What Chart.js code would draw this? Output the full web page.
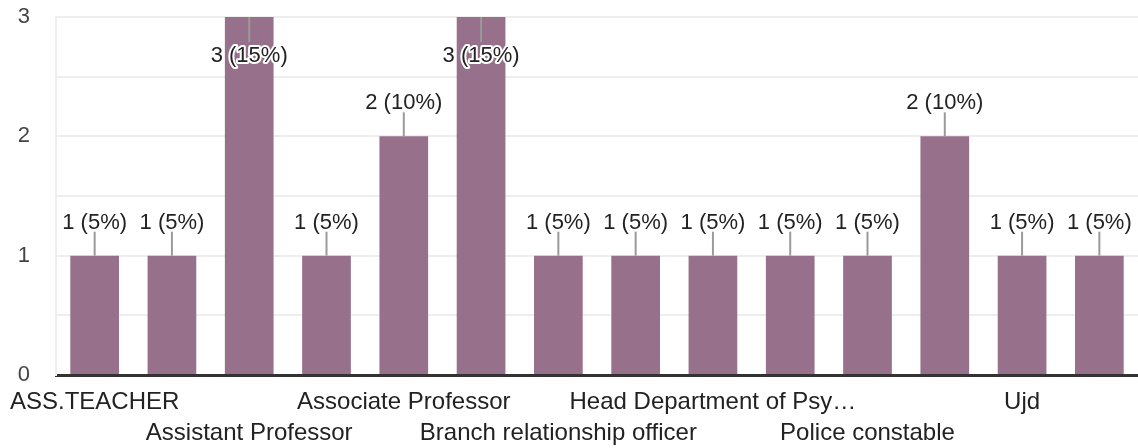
<!DOCTYPE html>
<html>
<head>
<meta charset="utf-8">
<title>Pekerjaan</title>
<script src="https://cdn.jsdelivr.net/npm/chart.js@4.4.1/dist/chart.umd.min.js"></script>
<style>
  body { margin: 0; background: #fff; }
  canvas { display: block; }
</style>
</head>
<body>
<canvas id="barChart" width="1138" height="448"></canvas>
<script>
const categories = [
  "ASS.TEACHER",
  "Assistant",
  "Assistant Professor",
  "Assistant professor",
  "Associate Professor",
  "Bank manager",
  "Branch relationship officer",
  "Doctor",
  "Head Department of Psychology",
  "Lecturer",
  "Police constable",
  "Teacher",
  "Ujd",
  "Vice principal",
];
const jumlah = [1, 1, 3, 1, 2, 3, 1, 1, 1, 1, 1, 2, 1, 1];
const yTicks = [0, 1, 2, 3];

const fontFamily = "'Liberation Sans', Arial, sans-serif";
const warnaBar = "#97708b";
const totalJawaban = jumlah.reduce(function (a, b) { return a + b; }, 0);

// ukur teks supaya label panjang dipotong dengan "…"
const ukur = document.createElement("canvas").getContext("2d");
function potongLabel(teks, maxLebar) {
  ukur.font = "24px " + fontFamily;
  if (ukur.measureText(teks).width <= maxLebar) return teks;
  let s = teks;
  while (s.length > 1 && ukur.measureText(s + "…").width > maxLebar) {
    s = s.slice(0, -1);
  }
  return s.trimEnd() + "…";
}

const labelNilai = {
  id: "labelNilai",
  afterDatasetsDraw(chart) {
    const ctx = chart.ctx;
    const area = chart.chartArea;
    const meta = chart.getDatasetMeta(0);
    ctx.save();
    ctx.font = "22px " + fontFamily;
    ctx.textAlign = "center";
    ctx.textBaseline = "middle";
    meta.data.forEach(function (bar, i) {
      const v = jumlah[i];
      const teks = v + " (" + Math.round((v / totalJawaban) * 100) + "%)";
      let y1, yTeks;
      if (bar.y - 48 < area.top) {
        y1 = bar.y + 25;
        yTeks = bar.y + 39;
      } else {
        y1 = bar.y - 24;
        yTeks = bar.y - 33;
      }
      ctx.strokeStyle = "#9a9a9a";
      ctx.lineWidth = 2;
      ctx.beginPath();
      ctx.moveTo(bar.x, bar.y);
      ctx.lineTo(bar.x, y1);
      ctx.stroke();
      ctx.lineWidth = 4;
      ctx.lineJoin = "round";
      ctx.strokeStyle = "#fff";
      ctx.strokeText(teks, bar.x, yTeks);
      ctx.fillStyle = "#222";
      ctx.fillText(teks, bar.x, yTeks);
    });
    ctx.restore();
  },
};

document.addEventListener("DOMContentLoaded", function () {
  const ctx = document.getElementById("barChart").getContext("2d");
  new Chart(ctx, {
    type: "bar",
    data: {
      labels: categories,
      datasets: [
        {
          data: jumlah,
          backgroundColor: warnaBar,
          barPercentage: 0.63,
          categoryPercentage: 1,
        },
      ],
    },
    options: {
      responsive: false,
      animation: false,
      layout: { padding: { top: 17, right: 0, left: 0, bottom: 0 } },
      plugins: {
        legend: { display: false },
        tooltip: { enabled: false },
      },
      scales: {
        x: {
          grid: { display: false, drawTicks: false },
          border: { display: true, color: "#333", width: 3 },
          afterFit: function (scale) {
            scale.height = 73;
            scale.paddingLeft = 0;
            scale.paddingRight = 0;
          },
          ticks: {
            autoSkip: false,
            maxRotation: 0,
            minRotation: 0,
            padding: 12,
            color: "#222",
            font: { family: fontFamily, size: 24, lineHeight: 1.3 },
            callback: function (value, index) {
              if (index % 2 === 1) return "";
              const teks = potongLabel(categories[index], 290);
              return index % 4 === 0 ? teks : ["", teks];
            },
          },
        },
        y: {
          min: 0,
          max: 3,
          grid: { color: "#eeeeee", lineWidth: 2, drawTicks: false },
          border: { display: true, color: "#eeeeee", width: 2 },
          afterFit: function (scale) {
            scale.width = 56;
            scale.paddingTop = 0;
            scale.paddingBottom = 0;
          },
          afterBuildTicks: function (scale) {
            const t = [];
            for (let v = 0; v <= 3; v += 0.5) t.push({ value: v });
            scale.ticks = t;
          },
          ticks: {
            padding: 26,
            color: "#444",
            font: { family: fontFamily, size: 22 },
            callback: function (value) {
              return yTicks.indexOf(value) >= 0 ? String(value) : "";
            },
          },
        },
      },
    },
    plugins: [labelNilai],
  });
});
</script>
</body>
</html>
